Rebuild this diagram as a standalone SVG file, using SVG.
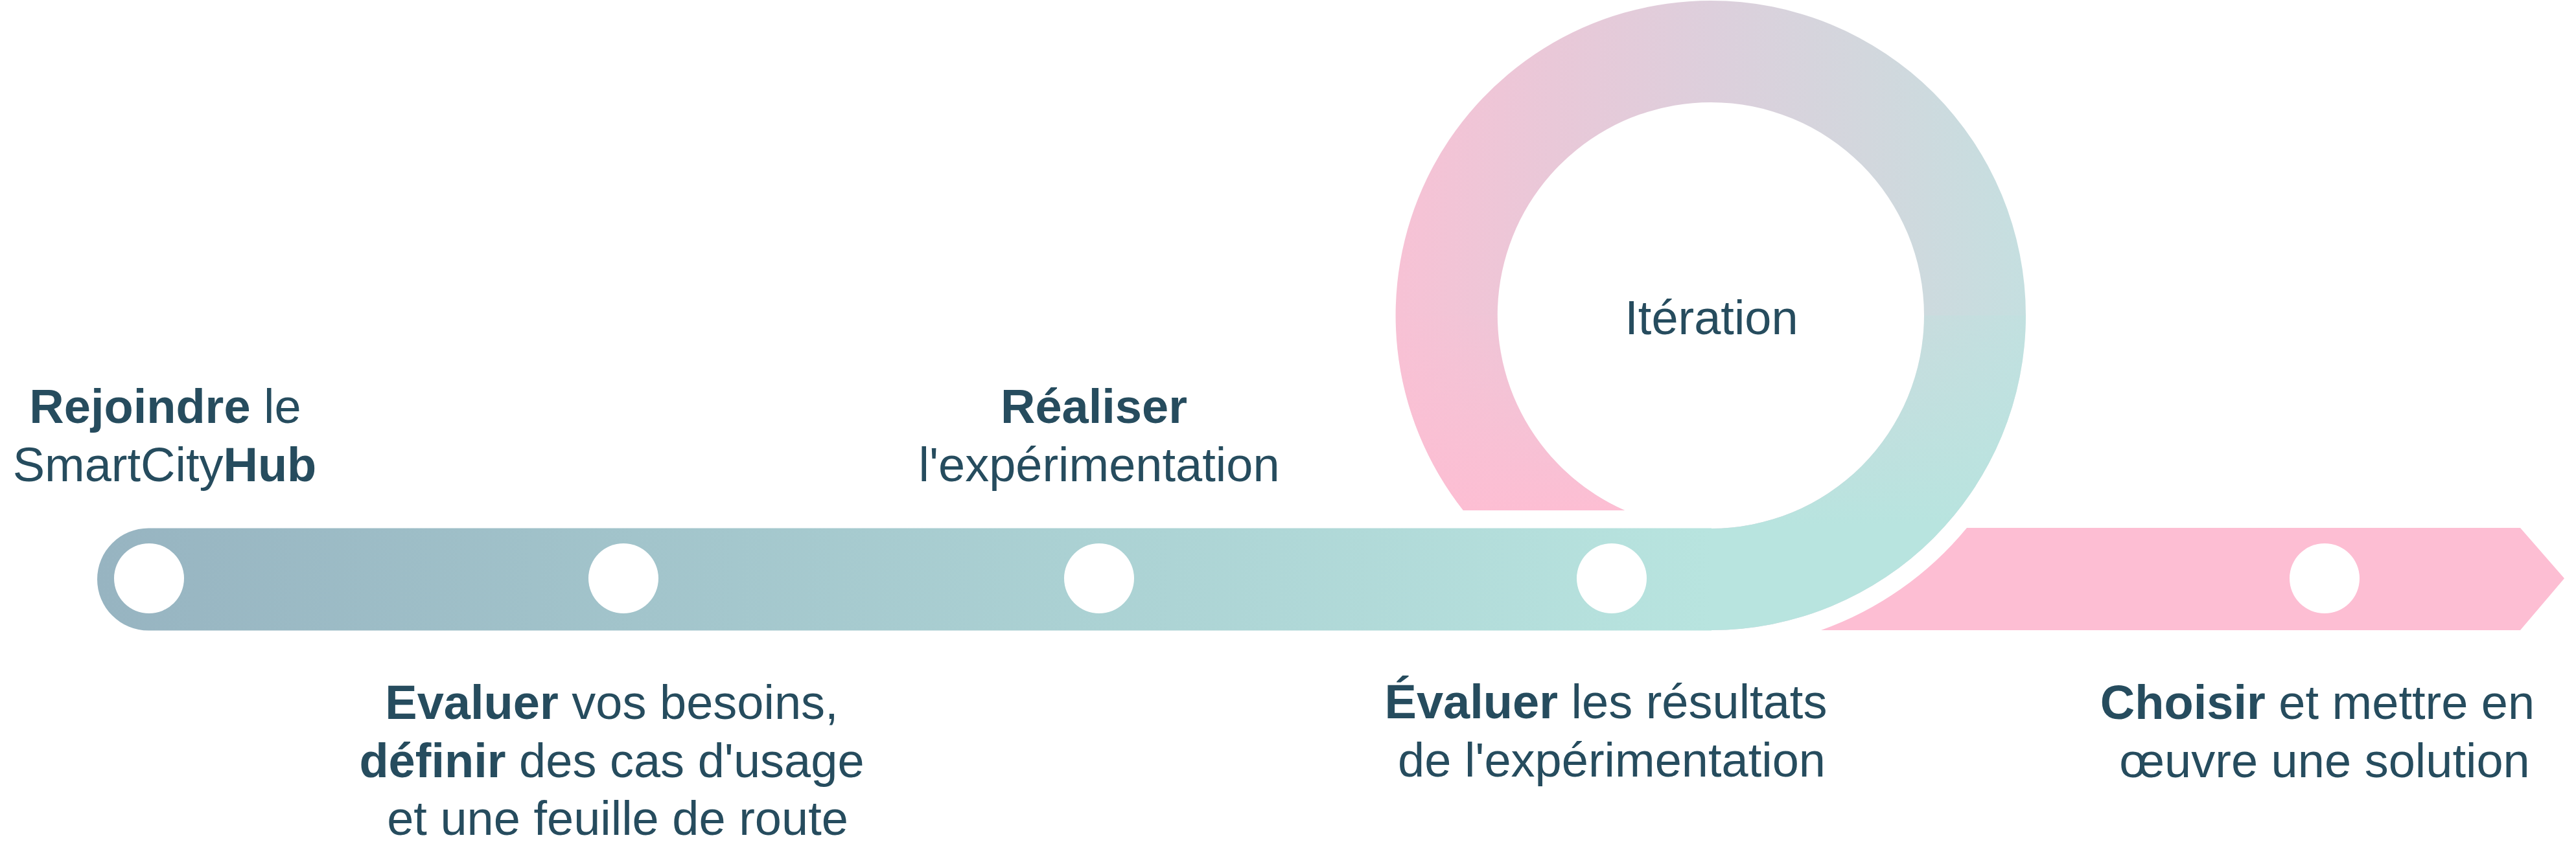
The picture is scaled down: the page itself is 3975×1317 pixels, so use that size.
<svg xmlns="http://www.w3.org/2000/svg" width="3975" height="1317" viewBox="0 0 3975 1317">
  <style>
    text { font-family: "Liberation Sans", Arial, sans-serif; font-size: 74px; fill: #264c5e; text-anchor: middle; }
    .b { font-weight: bold; }
    .dot { fill: #ffffff; }
  </style>
  <defs>
    <linearGradient id="gBar" gradientUnits="userSpaceOnUse" x1="150" y1="0" x2="2640" y2="0">
      <stop offset="0" stop-color="#97b4c1"/>
      <stop offset="1" stop-color="#b8e4df"/>
    </linearGradient>
    <linearGradient id="gRing" gradientUnits="userSpaceOnUse" x1="2155" y1="0" x2="3126" y2="0">
      <stop offset="0" stop-color="#f7c2d5"/>
      <stop offset="0.25" stop-color="#e9c8d8"/>
      <stop offset="0.5" stop-color="#ddcfdc"/>
      <stop offset="0.75" stop-color="#d2d7dd"/>
      <stop offset="1" stop-color="#c5dfe0"/>
    </linearGradient>
    <linearGradient id="gPinkFade" gradientUnits="userSpaceOnUse" x1="0" y1="470" x2="0" y2="790">
      <stop offset="0" stop-color="#fdbed3" stop-opacity="0"/>
      <stop offset="1" stop-color="#fdbed3" stop-opacity="1"/>
    </linearGradient>
    <linearGradient id="gMintFade" gradientUnits="userSpaceOnUse" x1="0" y1="380" x2="0" y2="810">
      <stop offset="0" stop-color="#b8e4df" stop-opacity="0"/>
      <stop offset="1" stop-color="#b8e4df" stop-opacity="1"/>
    </linearGradient>
  </defs>
  <rect width="3975" height="1317" fill="#ffffff"/>

  <g id="connectors">
    <path id="track-bar" fill="url(#gBar)" d="M2641,815.5 L229,815.5 A79 79 0 0 0 229,973.5 L2641,973.5 Z"/>
    <path id="loop" fill="url(#gRing)" d="M2258,788 A486 486 0 0 1 2640,1 A486 486 0 0 1 3126,487 A486 486 0 0 1 2640,973 L2640,816 A329 329 0 0 0 2969,487 A329 329 0 0 0 2640,158 A329 329 0 0 0 2507,788 Z"/>
    <path id="loop-left-shade" fill="url(#gPinkFade)" d="M2258,788 A486 486 0 0 1 2154,487 L2311,487 A329 329 0 0 0 2507,788 Z"/>
    <path id="loop-right-shade" fill="url(#gMintFade)" d="M3126,487 A486 486 0 0 1 2640,973 L2640,816 A329 329 0 0 0 2969,487 Z"/>
    <path id="final-arrow" fill="#fdbed3" d="M3035,815 L3889,815 L3957,893 L3889,973 L2810,973 A514 514 0 0 0 3035,815 Z"/>
  </g>

  <g id="node-rejoindre">
    <circle class="dot" cx="230" cy="893" r="54"/>
    <text x="255" y="653"><tspan class="b">Rejoindre</tspan> le</text>
    <text x="254" y="743">SmartCity<tspan class="b">Hub</tspan></text>
  </g>

  <g id="node-evaluer-besoins">
    <circle class="dot" cx="962" cy="893" r="54"/>
    <text x="944" y="1110"><tspan class="b">Evaluer</tspan> vos besoins,</text>
    <text x="944" y="1200"><tspan class="b">définir</tspan> des cas d'usage</text>
    <text x="953" y="1289">et une feuille de route</text>
  </g>

  <g id="node-realiser">
    <circle class="dot" cx="1696" cy="893" r="54"/>
    <text x="1688" y="653" class="b">Réaliser</text>
    <text x="1696" y="743">l'expérimentation</text>
  </g>

  <g id="node-evaluer-resultats">
    <circle class="dot" cx="2487" cy="893" r="54"/>
    <text x="2478" y="1109"><tspan class="b">Évaluer</tspan> les résultats</text>
    <text x="2487" y="1199">de l'expérimentation</text>
  </g>

  <g id="node-iteration">
    <text x="2641" y="516">Itération</text>
  </g>

  <g id="node-choisir">
    <circle class="dot" cx="3587" cy="893" r="54"/>
    <text x="3576" y="1110"><tspan class="b">Choisir</tspan> et mettre en</text>
    <text x="3587" y="1200">œuvre une solution</text>
  </g>
</svg>
